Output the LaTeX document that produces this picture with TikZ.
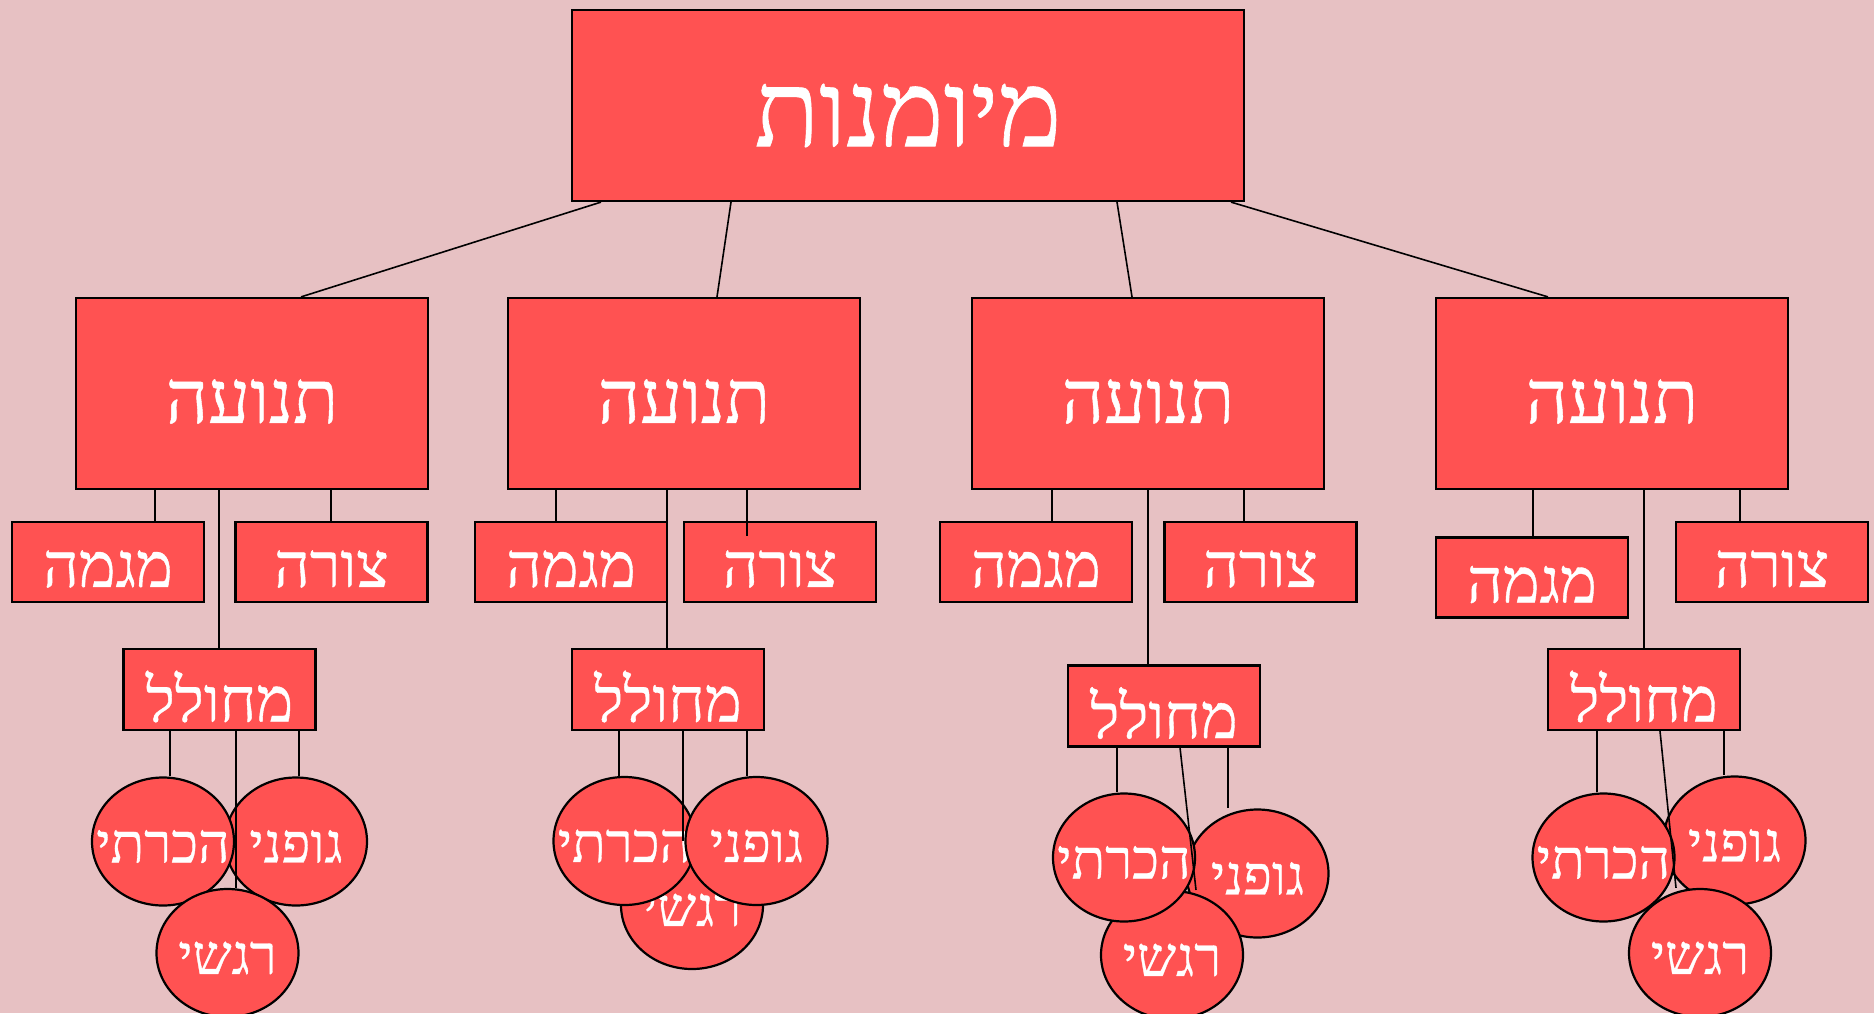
\documentclass[tikz,border=0pt]{standalone}
\usepackage{fontspec}
\usetikzlibrary{shapes.geometric, calc}
\newfontfamily\hebfont[Script=Hebrew, FakeBold=0.6]{Liberation Serif}
\TeXXeTstate=1
\newcommand{\heb}[2][3.5pt]{\raisebox{-#1}[\height][\depth]{\beginR #2\endR}}
\newcommand{\ovl}[1]{\makebox[0pt]{\raisebox{-2.5pt}[\height][\depth]{\beginR #1\endR}}}
\definecolor{paper}{HTML}{E7C1C3}
\definecolor{boxred}{HTML}{FF5252}
\tikzset{
  rbox/.style={draw=black, fill=boxred, line width=1.1pt, inner sep=0pt,
               text=white, font=\hebfont\fontsize{31}{34}\selectfont},
  oval/.style={ellipse, draw=black, fill=boxred, line width=1.1pt, inner sep=0pt,
               minimum width=71pt, minimum height=64pt,
               text=white, font=\hebfont\fontsize{27.5}{30}\selectfont},
  link/.style={draw=black, line width=1.35pt},
  toplink/.style={draw=black, line width=0.8pt},
}

\begin{document}
\begin{tikzpicture}[x=0.5pt, y=-0.5pt]
  \fill[paper] (0,0) rectangle (1874,1013);
  \useasboundingbox (0,0) rectangle (1874,1013);

  % root and the four movement boxes
  \node[rbox, minimum width=336pt, minimum height=95.5pt,
        font=\hebfont\fontsize{53}{58}\selectfont] (top) at (908,105.5) {\heb[5pt]{מיומנות}};
  \foreach \n/\x in {1/252, 2/684, 3/1148, 4/1612}
    \node[rbox, minimum width=176pt, minimum height=95.5pt,
          font=\hebfont\fontsize{37}{41}\selectfont] (b\n) at (\x,393.5) {\heb[4pt]{תנועה}};

  % second row
  \node[rbox, minimum width=96pt, minimum height=40pt] (mg1) at (108,562)    {\heb{מגמה}};
  \node[rbox, minimum width=96pt, minimum height=40pt] (tz1) at (331.5,562)  {\heb{צורה}};
  \node[rbox, minimum width=96pt, minimum height=40pt] (mg2) at (571,562)    {\heb{מגמה}};
  \node[rbox, minimum width=96pt, minimum height=40pt] (tz2) at (780,562)    {\heb{צורה}};
  \node[rbox, minimum width=96pt, minimum height=40pt] (mg3) at (1036,562)   {\heb{מגמה}};
  \node[rbox, minimum width=96pt, minimum height=40pt] (tz3) at (1260.5,562) {\heb{צורה}};
  \node[rbox, minimum width=96pt, minimum height=40pt] (mg4) at (1532,577.5) {\heb{מגמה}};
  \node[rbox, minimum width=96pt, minimum height=40pt] (tz4) at (1772,562)   {\heb{צורה}};

  \node[rbox, minimum width=96pt, minimum height=40.5pt] (mh1) at (219.5,689.5) {\heb{מחולל}};
  \node[rbox, minimum width=96pt, minimum height=40.5pt] (mh2) at (668,689.5)   {\heb{מחולל}};
  \node[rbox, minimum width=96pt, minimum height=40.5pt] (mh3) at (1164,706)    {\heb{מחולל}};
  \node[rbox, minimum width=96pt, minimum height=40.5pt] (mh4) at (1644,689.5)  {\heb{מחולל}};

  % root links
  \draw[toplink] (top.south -| 601,0)  -- (b1.north -| 301,0);
  \draw[toplink] (top.south -| 731,0)  -- (b2.north -| 717,0);
  \draw[toplink] (top.south -| 1117,0) -- (b3.north -| 1132,0);
  \draw[toplink] (top.south -| 1231,0) -- (b4.north -| 1548,0);

  % links from the movement boxes
  \draw[link] (b1.south -| 155,0)  -- (mg1.north -| 155,0);
  \draw[link] (b1.south -| 331,0)  -- (tz1.north -| 331,0);
  \draw[link] (b1.south -| 219,0)  -- (mh1.north -| 219,0);
  \draw[link] (b2.south -| 556,0)  -- (mg2.north -| 556,0);
  \draw[link] (b2.south -| 747,0)  -- ($(tz2.north -| 747,0)+(0,15)$);
  \draw[link] (b2.south -| 667,0)  -- (mh2.north -| 667,0);
  \draw[link] (b3.south -| 1052,0) -- (mg3.north -| 1052,0);
  \draw[link] (b3.south -| 1244,0) -- (tz3.north -| 1244,0);
  \draw[link] (b3.south -| 1148,0) -- (mh3.north -| 1148,0);
  \draw[link] (b4.south -| 1533,0) -- (mg4.north -| 1533,0);
  \draw[link] (b4.south -| 1740,0) -- (tz4.north -| 1740,0);
  \draw[link] (b4.south -| 1644,0) -- (mh4.north -| 1644,0);

  % ovals, back to front
  \node[oval] (gf1) at (296,841.5)  {\ovl{גופני}};
  \node[oval] (hk1) at (163,841.5)  {\ovl{הכרתי}};
  \node[oval] (rg1) at (227.5,953)  {\ovl{רגשי}};

  \node[oval] (rg2) at (692,905)    {\ovl{רגשי}};
  \node[oval] (hk2) at (624.5,841)  {\ovl{הכרתי}};
  \node[oval] (gf2) at (756.5,841)  {\ovl{גופני}};

  \node[oval] (gf3) at (1257.5,873.5) {\ovl{גופני}};
  \node[oval] (rg3) at (1172,955)     {\ovl{רגשי}};
  \node[oval] (hk3) at (1124,857.5)   {\ovl{הכרתי}};

  \node[oval] (gf4) at (1734.5,840.5) {\ovl{גופני}};
  \node[oval] (hk4) at (1603.5,857.5) {\ovl{הכרתי}};
  \node[oval] (rg4) at (1700,953)     {\ovl{רגשי}};

  % links from the dancer boxes
  \draw[link] (mh1.south -| 170,0)  -- (hk1.north -| 170,0);
  \draw[link] (mh1.south -| 299,0)  -- (gf1.north -| 299,0);
  \draw[link] (mh1.south -| 236,0)  -- (rg1.north -| 236,0);
  \draw[link] (mh2.south -| 619,0)  -- (hk2.north -| 619,0);
  \draw[link] (mh2.south -| 747,0)  -- (gf2.north -| 747,0);
  \draw[link] (mh2.south -| 683,0)  -- (hk2.center -| 683,0);
  \draw[link] (mh3.south -| 1117,0) -- (hk3.north -| 1117,0);
  \draw[link] (mh3.south -| 1228,0) -- (gf3.north -| 1228,0);
  \draw[toplink] (mh3.south -| 1180,0) -- (rg3.north -| 1196,0);
  \draw[link] (mh4.south -| 1597,0) -- (hk4.north -| 1597,0);
  \draw[link] (mh4.south -| 1724,0) -- (gf4.north -| 1724,0);
  \draw[toplink] (mh4.south -| 1660,0) -- (rg4.north -| 1676,0);
\end{tikzpicture}
\end{document}
